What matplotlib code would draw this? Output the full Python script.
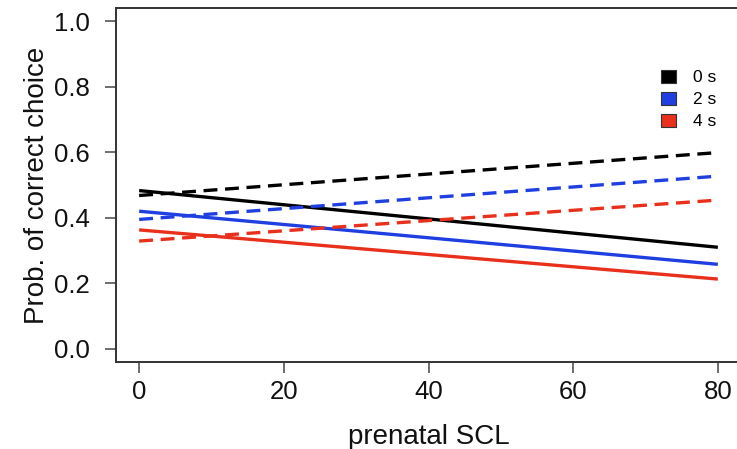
import matplotlib
matplotlib.use("Agg")
import matplotlib.pyplot as plt
from matplotlib.patches import Patch
import numpy as np

plt.rcParams['font.family'] = ['Liberation Sans', 'DejaVu Sans']
plt.rcParams['lines.scale_dashes'] = False

# data
scl = [0, 80]
groups = ["0 s", "2 s", "4 s"]
colors = ["#000000", "#1f3fe0", "#e8301c"]
solid_vals = {"0 s": [0.483, 0.310], "2 s": [0.420, 0.258], "4 s": [0.363, 0.213]}
dashed_vals = {"0 s": [0.468, 0.599], "2 s": [0.395, 0.527], "4 s": [0.329, 0.454]}
xticks = [0, 20, 40, 60, 80]
yticks = [0.0, 0.2, 0.4, 0.6, 0.8, 1.0]

fig = plt.figure(figsize=(7.37, 4.49), dpi=100)
ax = fig.add_axes([116/737, 87/449, (741-116)/737, (362-8)/449])

for g, c in zip(groups, colors):
    ax.plot(scl, solid_vals[g], color=c, lw=2.4, solid_capstyle='butt')
    ax.plot(scl, dashed_vals[g], color=c, lw=2.4, dashes=(10, 5.5), dash_capstyle='butt')

ax.set_xlim(-3.2, 83.2)
ax.set_ylim(-0.04, 1.04)
ax.set_xticks(xticks)
ax.set_xticklabels([str(t) for t in xticks])
ax.set_yticks(yticks)
ax.set_yticklabels([f"{t:.1f}" for t in yticks])
ax.tick_params(axis='both', direction='out', length=8, width=1.2, color='#555555',
               labelsize=18.5, labelcolor='#111111')
ax.tick_params(axis='y', pad=11)
ax.tick_params(axis='x', pad=5)
for s in ax.spines.values():
    s.set_color('#333333')
    s.set_linewidth(1.4)

ax.set_xlabel("prenatal SCL", fontsize=20, color='#111111', labelpad=14)
ax.set_ylabel("Prob. of correct choice", fontsize=20, color='#111111', labelpad=3)

handles = [Patch(facecolor=c, edgecolor='#333333', linewidth=0.8) for c in colors]
ax.legend(handles, groups, loc='upper left', bbox_to_anchor=((661-116)/625, (362-70)/354),
          frameon=False, fontsize=12.5, handlelength=0.85, handleheight=0.75,
          handletextpad=1.0, labelspacing=0.38, borderaxespad=0, borderpad=0)

fig.savefig("out.png", dpi=100)
